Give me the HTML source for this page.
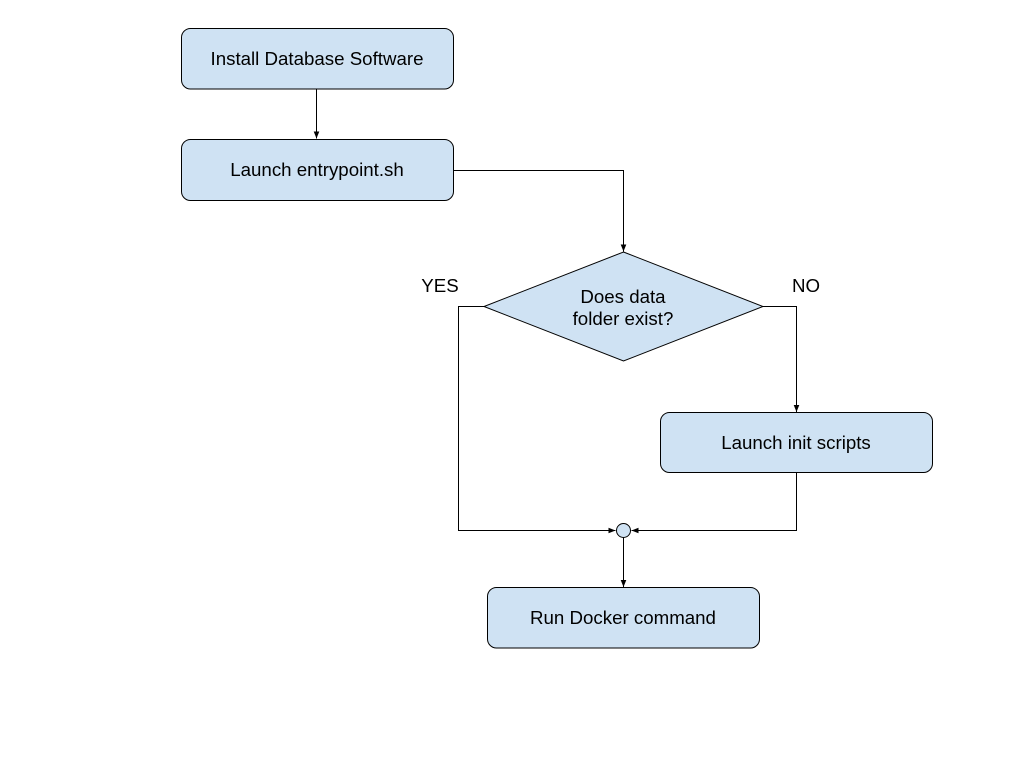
<!DOCTYPE html>
<html>
<head>
<meta charset="utf-8">
<style>
html,body{margin:0;padding:0;background:#fff;}
svg{display:block;}
text{font-family:"Liberation Sans",Arial,sans-serif;font-size:18.7px;fill:#000;}
</style>
</head>
<body>
<svg width="1024" height="768" viewBox="0 0 1024 768" xmlns="http://www.w3.org/2000/svg">
<defs>
<marker id="ah" markerWidth="8" markerHeight="8" refX="7" refY="4" orient="auto" markerUnits="userSpaceOnUse">
<path d="M0,1.2 L7,4 L0,6.8 z" fill="#000"/>
</marker>
</defs>
<rect width="1024" height="768" fill="#fff"/>

<!-- connectors -->
<g fill="none" stroke="#000" stroke-width="1">
<line x1="316.5" y1="89" x2="316.5" y2="138.5" marker-end="url(#ah)"/>
<polyline points="453.5,170.5 623.5,170.5 623.5,251.5" marker-end="url(#ah)"/>
<polyline points="484,306.5 458.5,306.5 458.5,530.5 615.5,530.5" marker-end="url(#ah)"/>
<polyline points="763,306.5 796.5,306.5 796.5,412" marker-end="url(#ah)"/>
<polyline points="796.5,473 796.5,530.5 631.5,530.5" marker-end="url(#ah)"/>
<line x1="623.5" y1="537.5" x2="623.5" y2="587" marker-end="url(#ah)"/>
</g>

<!-- shapes -->
<g fill="#cfe2f3" stroke="#000" stroke-width="1">
<rect x="181.5" y="28.5" width="272" height="60.5" rx="9" ry="9"/>
<rect x="181.5" y="139.5" width="272" height="61" rx="9" ry="9"/>
<polygon points="623.5,252 763,306.5 623.5,361 484,306.5"/>
<rect x="660.5" y="412.5" width="272" height="60" rx="9" ry="9"/>
<circle cx="623.5" cy="530.5" r="7"/>
<rect x="487.5" y="587.5" width="272" height="60.5" rx="9" ry="9"/>
</g>

<!-- labels -->
<g text-anchor="middle">
<text x="317" y="65">Install Database Software</text>
<text x="317" y="176">Launch entrypoint.sh</text>
<text x="623" y="303">Does data</text>
<text x="623" y="325">folder exist?</text>
<text x="796" y="449">Launch init scripts</text>
<text x="623" y="624">Run Docker command</text>
<text x="440" y="292">YES</text>
<text x="806" y="292">NO</text>
</g>
</svg>
</body>
</html>
